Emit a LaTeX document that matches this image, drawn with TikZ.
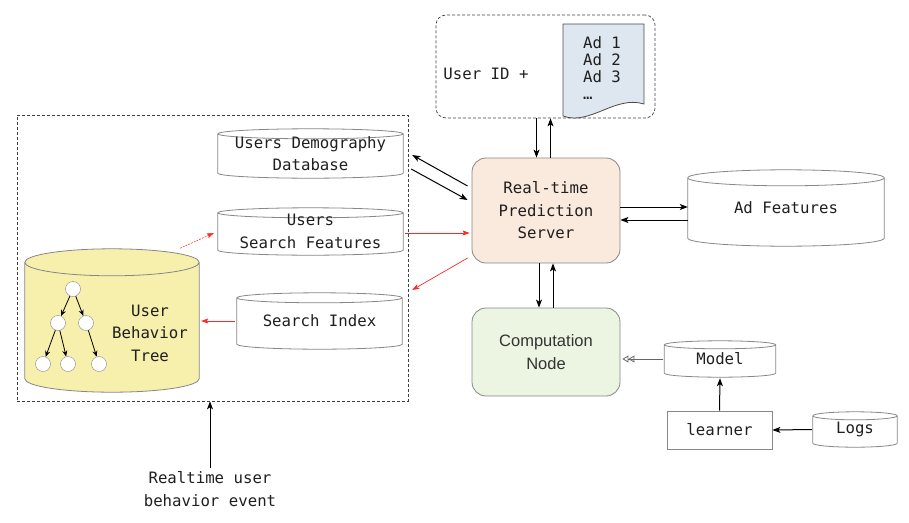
\documentclass[tikz,border=0pt]{standalone}
\usepackage{fontspec}
\setmonofont{DejaVu Sans Mono}
\setsansfont{Liberation Sans}
\usetikzlibrary{arrows.meta,calc,backgrounds}
\definecolor{peach}{RGB}{250,233,221}
\definecolor{mint}{RGB}{235,245,225}
\definecolor{straw}{RGB}{247,239,172}
\definecolor{paper}{RGB}{222,230,239}
\definecolor{edge}{RGB}{135,135,135}
\tikzset{
  txt/.style={font=\ttfamily\fontsize{15.7}{22.5}\selectfont, align=center, text=black!88},
  body/.style={txt, inner sep=0pt, minimum width=#1},
  box/.style={draw=edge, line width=0.8pt, rounded corners=14pt, txt},
  frame/.style={draw=black!75, line width=0.7pt, dash pattern=on 3pt off 2pt},
  leaf/.style={circle, draw=edge, fill=white, minimum size=15pt, inner sep=0pt},
  arr/.style={line width=1pt, -{Stealth[length=8pt,width=6pt,inset=2pt]}},
  redarr/.style={red!85, line width=0.7pt, -{Stealth[length=7pt,width=5pt,inset=1.5pt]}},
  hollow/.style={draw=black!60, line width=0.8pt, -{Triangle[open,length=6pt,width=7pt] Triangle[open,length=6pt,width=7pt]}}
}
% cylinder round the body of a node: fill, node, y radius
\newcommand{\drum}[3][white]{%
  \draw[draw=edge, line width=0.8pt, fill=#1] let \p1=($(#2.east)-(#2.west)$) in
    (#2.north west) -- (#2.south west)
    arc[start angle=180, end angle=360, x radius=0.5*\x1, y radius=#3pt]
    -- (#2.north east)
    arc[start angle=0, end angle=180, x radius=0.5*\x1, y radius=#3pt] -- cycle
    (#2.north west) arc[start angle=180, end angle=360, x radius=0.5*\x1, y radius=#3pt];
}
\begin{document}
\begin{tikzpicture}[x=1pt, y=-1pt]
\useasboundingbox (0,0) rectangle (909,522);
% left store and query box
\node[frame, minimum width=391, minimum height=286] (store) at (212.5,258) {};
\node[frame, rounded corners=10pt, minimum width=219, minimum height=103] (query) at (545.5,66.5) {};
\node[txt] (uid) at (486,74) {User ID +};
\draw[draw=black!70, line width=0.8pt, fill=paper] (563,24) -- (644,24) -- (644,104) .. controls (615,95) and (590,126) .. (563,116) -- cycle;
\node[txt, align=left, font=\ttfamily\fontsize{15.7}{17}\selectfont] (ads) at (602,68) {Ad 1\\Ad 2\\Ad 3\\…};
% boxes
\node[box, fill=peach, minimum width=148, minimum height=105] (server) at (546,210.5) {Real-time\\Prediction\\Server};
\node[box, fill=mint, font=\sffamily\fontsize{16.5}{23}\selectfont, text=black!80, minimum width=148, minimum height=88] (comp) at (546,352) {Computation\\Node};
\node[draw=edge, line width=0.8pt, txt, minimum width=105, minimum height=38] (learner) at (719.5,430) {learner};
% databases
\node[body=185, minimum height=39] (demo) at (310.5,153.5) {Users Demography\\Database};
\node[body=185, minimum height=37] (sfeat) at (310.5,231.5) {Users\\Search Features};
\node[body=165, minimum height=46] (sidx) at (319.5,321) {Search Index};
\node[body=196, minimum height=60] (adfeat) at (786,208) {Ad Features};
\node[body=111, minimum height=28] (model) at (720,359) {Model};
\node[body=84, minimum height=27] (logs) at (855,429.5) {Logs};
\node[body=174, minimum height=116] (tree) at (112,320.5) {};
\node[txt] (behav) at (150,333) {User\\Behavior\\Tree};
\begin{scope}[on background layer]
\drum{demo}{5}
\drum{sfeat}{5}
\drum{sidx}{5}
\drum{adfeat}{8}
\drum{model}{4}
\drum{logs}{4}
\drum[straw]{tree}{13.5}
\end{scope}
% behavior tree
\node[leaf] (t0) at (73,289) {};
\node[leaf] (t1) at (58,323) {};
\node[leaf] (t2) at (86,323) {};
\node[leaf] (t3) at (43,364) {};
\node[leaf] (t4) at (68,364) {};
\node[leaf] (t5) at (99,364) {};
\foreach \a/\b in {t0/t1,t0/t2,t1/t3,t1/t4,t2/t5}
  \draw[line width=0.8pt, -{Stealth[length=6pt,width=5pt]}] (\a) -- (\b);
\node[txt] (event) at (210,489) {Realtime user\\behavior event};
% connectors
\draw[arr] ([xshift=-9]query.south) -- ([xshift=-9]query.south |- server.north);
\draw[arr] ([xshift=4.5]server.north) -- ([xshift=4.5]server.north |- query.south);
\draw[arr] ([yshift=3.5]server.east) -- ([yshift=3.5]server.east -| adfeat.west);
\draw[arr] ([yshift=-9.5]adfeat.west |- server.east) -- ([yshift=-9.5]server.east);
\draw[arr] ([xshift=-7]server.south) -- ([xshift=-7]comp.north);
\draw[arr] ([xshift=7]comp.north) -- ([xshift=7]server.south);
\draw[arr] ([shift={(-4,-24.5)}]server.west) -- ([shift={(9,1.5)}]demo.east);
\draw[arr] ([shift={(8,15.5)}]demo.east) -- ([shift={(-4,-10.5)}]server.west);
\draw[redarr] ([shift={(2,1.5)}]sfeat.east) -- ([shift={(-2,22.5)}]server.west);
\draw[redarr] ([shift={(-4,47.5)}]server.west) -- ([shift={(10,-31)}]sidx.east);
\draw[redarr] ([xshift=-2]sidx.west) -- ([xshift=2]sidx.west -| tree.east);
\draw[redarr, line width=0.5pt, dash pattern=on 2pt off 1pt] ([shift={(68,-14)}]tree.north) -- ([shift={(-4,1.5)}]sfeat.west);
\draw[hollow] ([xshift=-1]model.west) -- ([xshift=2]model.west -| comp.east);
\draw[arr] (learner.north) -- ([yshift=-5]model.south);
\draw[arr] ([xshift=-1]logs.west) -- (learner.east);
\draw[arr] (event.north) -- (event.north |- store.south);
\end{tikzpicture}
\end{document}
